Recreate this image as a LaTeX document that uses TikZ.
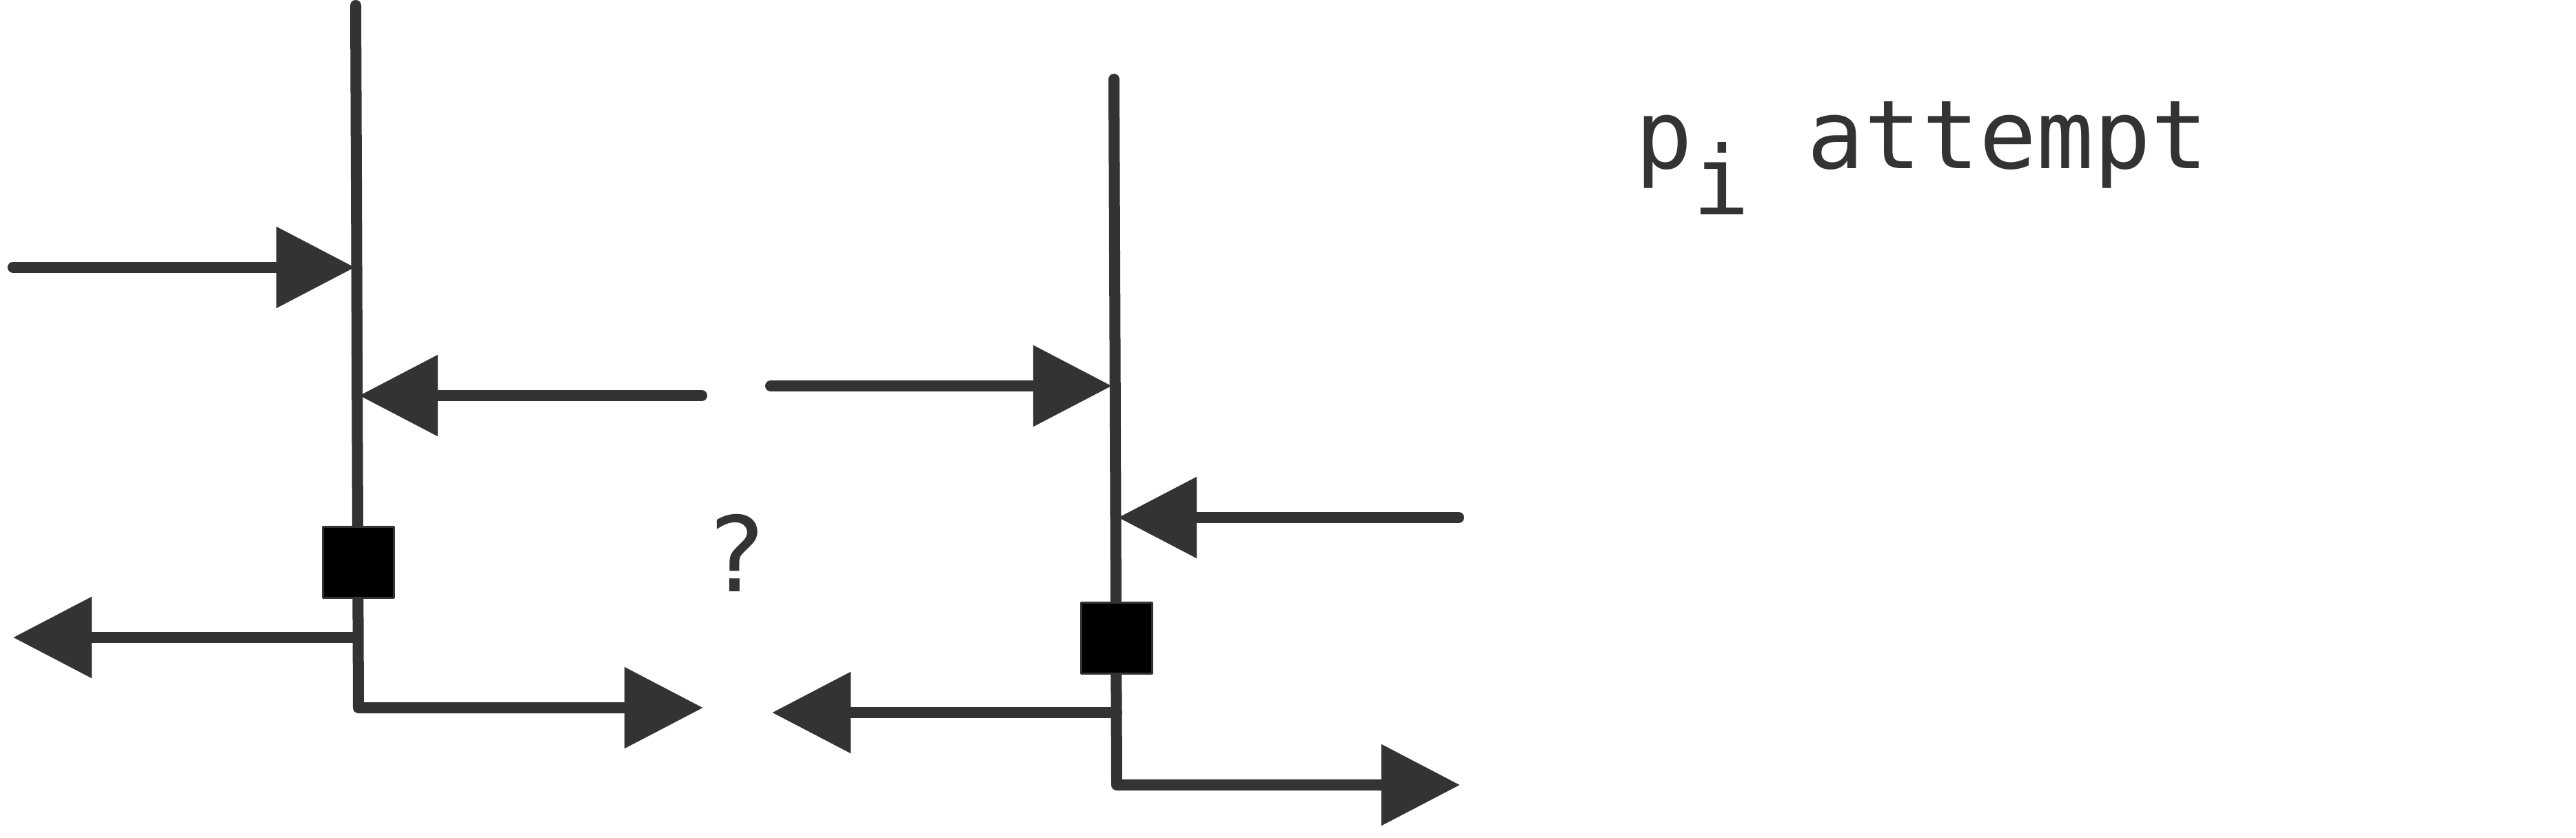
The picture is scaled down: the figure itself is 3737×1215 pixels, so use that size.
\documentclass[tikz,border=0pt]{standalone}
\usepackage{fontspec}
\setmonofont{DejaVu Sans Mono}
\newfontfamily\qmarkfont{DejaVu Sans}
\usetikzlibrary{arrows.meta}
\definecolor{ink}{HTML}{333333}

\begin{document}
\begin{tikzpicture}[x=0.01cm, y=-0.01cm, line width=1.6mm, line cap=round, line join=round, ink,
    msg/.style={-{Triangle[length=11.4mm,width=11.4mm]}},
    lock/.style={draw=ink, line width=0.8pt, fill=black, minimum size=1.03cm, inner sep=0pt}]
  \useasboundingbox (0,0) rectangle (3737,1215);

  % 1. the two lifelines, each turning right at its foot
  \coordinate (P) at (516,8);
  \coordinate (P_e) at (520,1027);
  \coordinate (P_x) at (1020,1027);
  \coordinate (Q) at (1616,115);
  \coordinate (Q_e) at (1620,1139);
  \coordinate (Q_x) at (2118,1139);

  % 2. ends of the messages on the left
  \coordinate (A_1) at (19,388);   \coordinate (A_2) at (515,388);
  \coordinate (B_1) at (1018,574); \coordinate (B_2) at (521,574);
  \coordinate (C_1) at (518,925);  \coordinate (C_2) at (19,925);

  % 3. ends of the messages on the right
  \coordinate (D_1) at (1118,560); \coordinate (D_2) at (1613,560);
  \coordinate (E_1) at (2116,751); \coordinate (E_2) at (1622,751);
  \coordinate (F_1) at (1620,1034); \coordinate (F_2) at (1120,1034);

  \draw[msg] (P) -- (P_e) -- (P_x);
  \draw[msg] (Q) -- (Q_e) -- (Q_x);
  \draw[msg] (A_1) -- (A_2);
  \draw[msg] (B_1) -- (B_2);
  \draw[msg] (C_1) -- (C_2);
  \draw[msg] (D_1) -- (D_2);
  \draw[msg] (E_1) -- (E_2);
  \draw[msg] (F_1) -- (F_2);

  % 4. locks on the lifelines
  \node[lock] (L_1) at (520,816) {};
  \node[lock] (L_2) at (1620,926) {};

  % 5. labels
  \node[anchor=base, inner sep=0pt, text=ink, font=\qmarkfont\fontsize{43}{52}\selectfont] (M) at (1070,858) {?};
  \node[anchor=base west, inner sep=0pt, text=ink, font=\ttfamily\fontsize{39.3}{47}\selectfont] (T) at (2364,244) {p\raisebox{-0.67cm}{i} attempt};
\end{tikzpicture}
\end{document}
